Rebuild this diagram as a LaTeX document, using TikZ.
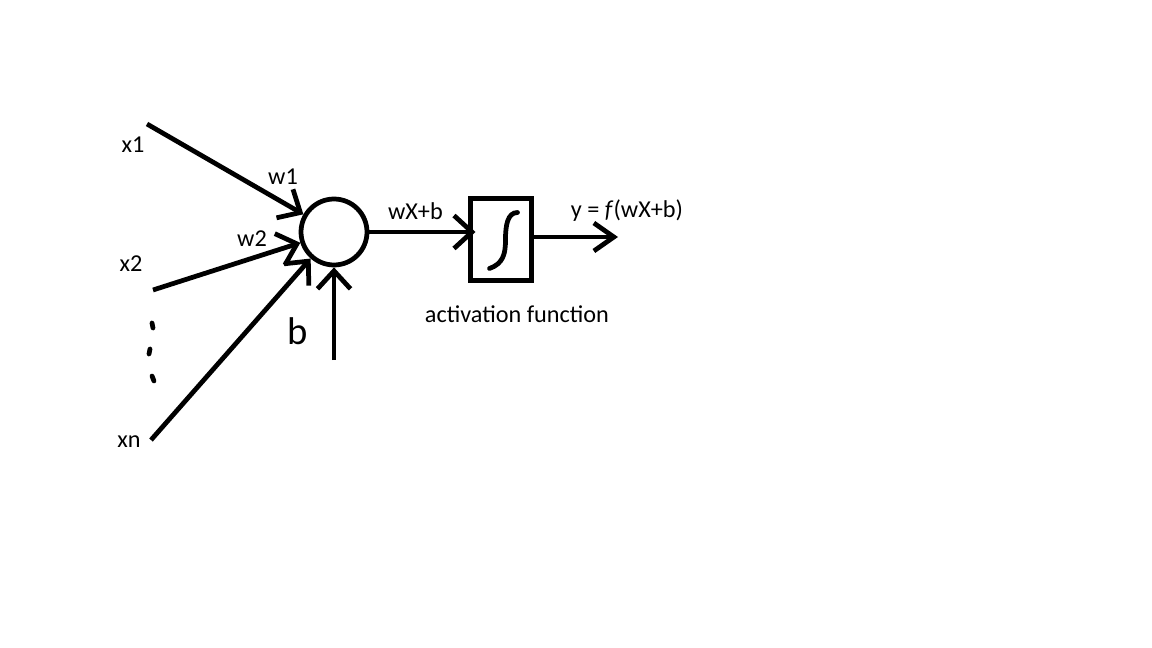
\documentclass[tikz,border=0pt]{standalone}
\usepackage{fontspec}
\setmainfont{Carlito}
\usetikzlibrary{arrows.meta, positioning, calc}
\tikzset{
    wire/.style={line width=0.095cm, black},
    arr/.style={wire, -{Straight Barb[length=0.36cm 0 0, width=0.66cm 0 0, line width=0.095cm]}},
    neuron/.style={circle, draw=black, line width=0.095cm, minimum size=1.32cm, inner sep=0pt},
    actbox/.style={rectangle, draw=black, line width=0.1cm, minimum width=1.22cm, minimum height=1.66cm, inner sep=0pt},
    lbl/.style={font=\fontsize{13.8}{15}\selectfont, inner sep=0pt, text=black},
    biglbl/.style={font=\fontsize{22}{24}\selectfont, inner sep=0pt, text=black}
}

\begin{document}
\begin{tikzpicture}[x=0.02cm, y=-0.02cm]
    \useasboundingbox (0,0) rectangle (1152,648);

    % Neurona y funcion de activacion
    \node[neuron] (sum) at (334,232) {};
    \node[actbox] (act) at (500.5,239.5) {};

    % Entradas
    \node[lbl] (x1) at (133,145) {x1};
    \node[lbl] (x2) at (131,264) {x2};
    \node[lbl] (xn) at (129,442) {xn};
    \coordinate (x1s) at (147,124);
    \coordinate (x2s) at (153,290);
    \coordinate (xns) at (151,440);
    \coordinate (bs) at (334,360);
    \coordinate (yout) at (618,237);

    % Pesos y sesgo
    \node[lbl] (w1) at (283,177) {w1};
    \node[lbl] (w2) at (252,239) {w2};
    \node[biglbl] (b) at (298,331) {b};

    % Conexiones de entrada
    \draw[arr] (x1s) -- (sum);
    \draw[arr] (x2s) -- (sum);
    \draw[arr] (xns) -- (sum);
    \draw[arr] (bs) -- (bs |- sum.south);

    % Puntos suspensivos
    \draw[wire, line cap=round] (152,323) -- (153,328);
    \draw[wire, line cap=round] (150,349) -- (149,354);
    \draw[wire, line cap=round] (152,376) -- (154,381);

    % Salida
    \draw[arr, shorten >=-0.16cm] (sum.east) -- (sum.east -| act.west)
        node[lbl, midway, above=0.2cm, xshift=-0.06cm] (z) {wX+b};
    \draw[wire, line cap=round] ($(act.center)+(-11,29)$)
        .. controls ($(act.center)+(3,24)$) and ($(act.center)+(5,14)$) .. ($(act.center)+(5,0)$)
        .. controls ($(act.center)+(5,-14)$) and ($(act.center)+(7,-27)$) .. ($(act.center)+(17,-27)$);
    \draw[arr, -{Straight Barb[length=0.4cm 0 0, width=0.56cm 0 0, line width=0.095cm]}] (act.east |- yout) -- (yout);
    \node[lbl] (y) at (627,211) {y = \textit{f}(wX+b)};
    \node[lbl] (actlbl) at (517,314) {activation function};
\end{tikzpicture}
\end{document}
